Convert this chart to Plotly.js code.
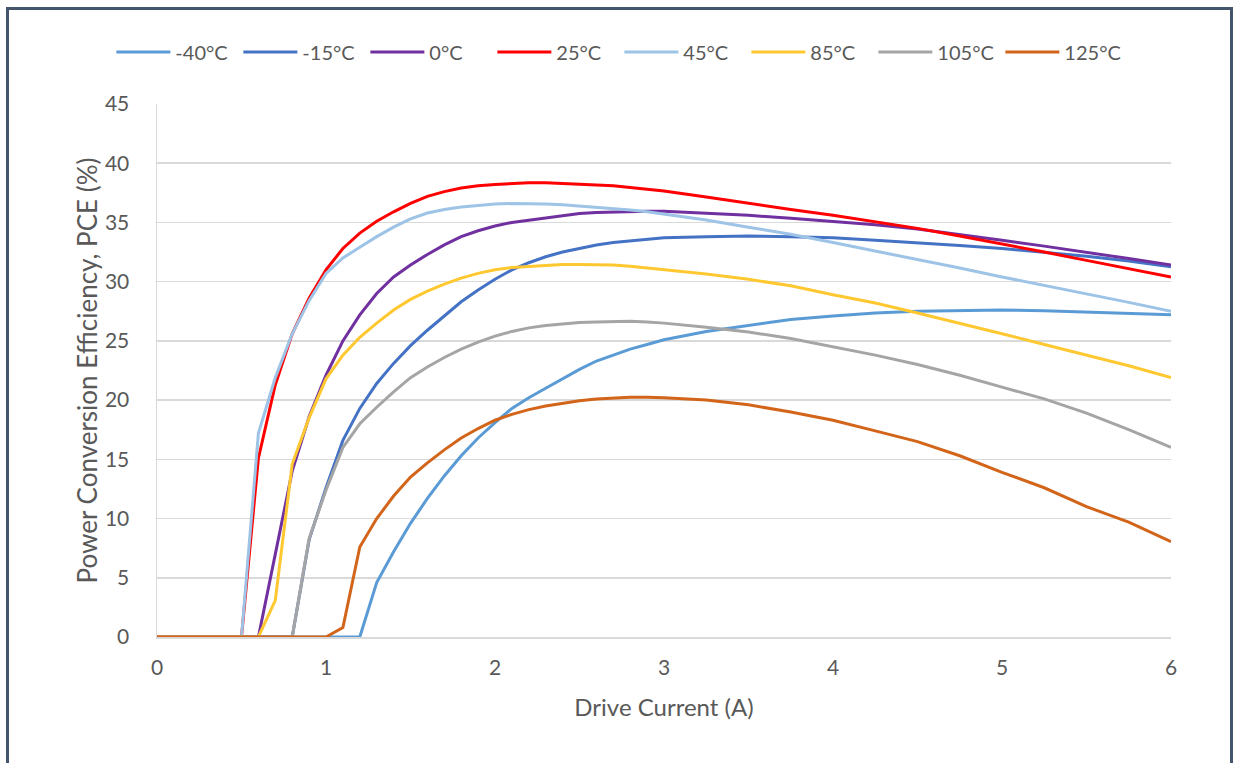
<!DOCTYPE html>
<html>
<head>
<meta charset="utf-8">
<script src="https://cdn.plot.ly/plotly-3.0.1.min.js"></script>
<style>
  html, body { margin:0; padding:0; background:#ffffff; }
  #wrap { position:relative; width:1238px; height:763px; overflow:hidden; }
  #chart { position:absolute; left:0; top:0; width:1238px; height:763px; }
  #frame { position:absolute; left:6px; top:7px; width:1221px; height:900px;
           border:3px solid #44546A; border-bottom:none; pointer-events:none; }
</style>
</head>
<body>
<div id="wrap">
  <div id="chart"></div>
  <div id="frame"></div>
</div>
<script>
// Drive current (A)
const current = [0,0.1,0.2,0.3,0.4,0.5,0.6,0.7,0.8,0.9,1.0,1.1,1.2,1.3,1.4,1.5,1.6,1.7,1.8,1.9,2.0,
  2.1,2.2,2.3,2.4,2.5,2.6,2.7,2.8,2.9,3.0,3.25,3.5,3.75,4.0,4.25,4.5,4.75,5.0,5.25,5.5,5.75,6.0];

// Power conversion efficiency (%) per temperature
const pce_m40 = [0,0,0,0,0,0,0,0,0,0,0,0,0,
  4.6,7.2,9.6,11.7,13.6,15.3,16.8,18.1,19.3,20.2,21.0,21.8,22.6,23.3,23.8,24.3,24.7,25.1,
  25.8,26.3,26.8,27.1,27.35,27.5,27.55,27.6,27.55,27.45,27.35,27.2];
const pce_m15 = [0,0,0,0,0,0,0,0,0,
  8.2,12.6,16.6,19.3,21.4,23.1,24.6,25.9,27.1,28.3,29.3,30.2,31.0,31.6,32.1,32.5,32.8,33.1,33.3,33.45,33.6,33.7,
  33.8,33.85,33.8,33.7,33.5,33.3,33.05,32.8,32.5,32.15,31.75,31.25];
const pce_0 = [0,0,0,0,0,0,0,
  7.0,14.0,18.6,22.1,25.0,27.2,29.0,30.4,31.4,32.3,33.1,33.8,34.3,34.7,35.0,35.2,35.4,35.6,35.75,35.85,35.9,35.95,35.95,35.95,
  35.8,35.6,35.35,35.1,34.8,34.45,34.0,33.5,33.0,32.5,31.95,31.4];
const pce_25 = [0,0,0,0,0,0,
  15.1,21.3,25.6,28.6,31.0,32.8,34.1,35.1,35.9,36.6,37.2,37.6,37.9,38.1,38.2,38.3,38.35,38.35,38.3,38.25,38.2,38.1,37.95,37.8,37.65,
  37.15,36.6,36.1,35.6,35.05,34.5,33.85,33.2,32.5,31.8,31.1,30.4];
const pce_45 = [0,0,0,0,0,0,
  17.2,21.9,25.6,28.4,30.7,32.0,32.9,33.8,34.6,35.3,35.8,36.1,36.3,36.45,36.55,36.6,36.6,36.55,36.5,36.4,36.3,36.2,36.05,35.9,35.7,
  35.2,34.6,34.0,33.3,32.6,31.9,31.15,30.4,29.7,29.0,28.25,27.5];
const pce_85 = [0,0,0,0,0,0,0,
  3.1,14.6,18.5,21.8,23.8,25.3,26.5,27.6,28.5,29.2,29.8,30.3,30.7,31.0,31.2,31.3,31.4,31.45,31.45,31.45,31.4,31.3,31.15,31.0,
  30.65,30.2,29.65,28.9,28.2,27.35,26.5,25.6,24.7,23.8,22.9,21.9];
const pce_105 = [0,0,0,0,0,0,0,0,0,
  8.3,12.4,16.0,18.0,19.4,20.7,21.9,22.8,23.6,24.3,24.9,25.4,25.8,26.1,26.3,26.45,26.55,26.6,26.65,26.65,26.6,26.5,
  26.15,25.75,25.2,24.5,23.8,23.0,22.1,21.1,20.1,18.9,17.5,16.0];
const pce_125 = [0,0,0,0,0,0,0,0,0,0,0,
  0.8,7.6,10.0,11.9,13.5,14.7,15.8,16.8,17.6,18.3,18.8,19.2,19.5,19.75,19.95,20.1,20.2,20.25,20.25,20.2,
  20.0,19.6,19.0,18.3,17.4,16.5,15.3,13.9,12.6,11.0,9.7,8.05];

const seriesNames = ['-40°C','-15°C','0°C','25°C','45°C','85°C','105°C','125°C'];
const seriesData = [pce_m40, pce_m15, pce_0, pce_25, pce_45, pce_85, pce_105, pce_125];
const seriesColors = ['#5B9BD5','#4472C4','#7030A0','#FF0000','#9DC3E6','#FFC830','#A5A5A5','#D2651A'];

const traces = seriesNames.map((n, i) => ({
  x: current, y: seriesData[i], name: n, type: 'scatter', mode: 'lines',
  line: { color: seriesColors[i], width: 3 }
}));

const layout = {
  width: 1238, height: 763,
  margin: { l: 157, r: 67, t: 104, b: 126 },
  paper_bgcolor: '#ffffff', plot_bgcolor: '#ffffff',
  font: { family: 'Lato, "Open Sans", sans-serif', color: '#595959' },
  showlegend: true,
  legend: {
    orientation: 'h', x: -0.045, xanchor: 'left', y: 1.0976, yanchor: 'middle',
    font: { size: 20, color: '#595959' }, bgcolor: 'rgba(0,0,0,0)',
    itemwidth: 54, entrywidth: 58, entrywidthmode: 'pixels'
  },
  xaxis: {
    range: [0, 6], tick0: 0, dtick: 1, showgrid: false, zeroline: false,
    showline: true, linecolor: '#D9D9D9', linewidth: 1.5, ticks: '',
    tickfont: { size: 21, color: '#595959' }, ticklabelstandoff: 11,
    title: { text: 'Drive Current (A)', font: { size: 24, color: '#595959' }, standoff: 21 }
  },
  yaxis: {
    range: [0, 45], tick0: 0, dtick: 5, showgrid: true, gridcolor: '#D9D9D9', gridwidth: 1.5,
    zeroline: false, showline: true, linecolor: '#D9D9D9', linewidth: 1.5, ticks: '',
    tickfont: { size: 21, color: '#595959' }, ticklabelstandoff: 22,
    title: { text: 'Power Conversion Efficiency, PCE (%)', font: { size: 26, color: '#595959' }, standoff: 0 }
  }
};

Plotly.newPlot('chart', traces, layout, { displayModeBar: false, staticPlot: true });
</script>
</body>
</html>
